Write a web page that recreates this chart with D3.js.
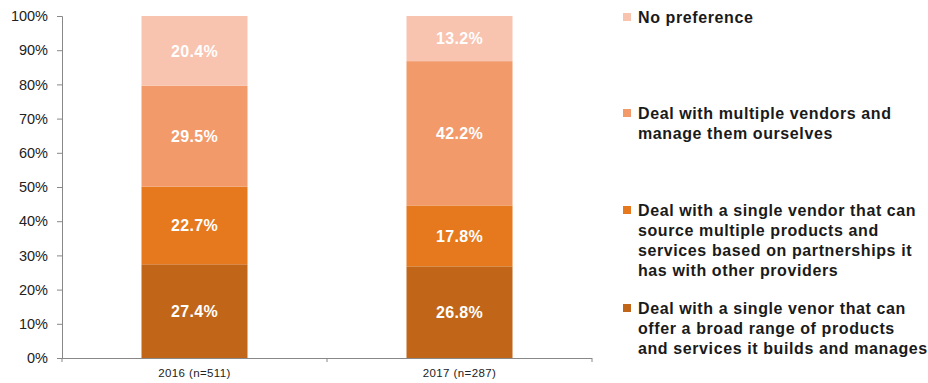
<!DOCTYPE html>
<html><head><meta charset="utf-8">
<script src="https://cdn.jsdelivr.net/npm/d3@7"></script>
<style>body{margin:0;background:#fff}svg{display:block}text{font-family:"Liberation Sans",Arial,sans-serif}</style>
</head><body><svg id="c" width="928" height="383"></svg>
<script>
const categories = ["2016 (n=511)", "2017 (n=287)"];
const seriesNames = [
  "Deal with a single venor that can offer a broad range of products and services it builds and manages",
  "Deal with a single vendor that can source multiple products and services based on partnerships it has with other providers",
  "Deal with multiple vendors and manage them ourselves",
  "No preference"
];
const broadRange = [27.4, 26.8];
const partnerships = [22.7, 17.8];
const multipleVendors = [29.5, 42.2];
const noPreference = [20.4, 13.2];
const yTicks = [0,10,20,30,40,50,60,70,80,90,100];
const legendLines = [
  ["Deal with a single venor that can", "offer a broad range of products", "and services it builds and manages"],
  ["Deal with a single vendor that can", "source multiple products and", "services based on partnerships it", "has with other providers"],
  ["Deal with multiple vendors and", "manage them ourselves"],
  ["No preference"]
];
const colors = ["#C16619", "#E6791E", "#F39A6B", "#F8C3AF"];

const svg = d3.select("#c");
const series = [broadRange, partnerships, multipleVendors, noPreference];
const table = categories.map((c,i)=>{const o={cat:c}; series.forEach((s,k)=>o["s"+k]=s[i]); return o;});
const keys = series.map((s,k)=>"s"+k);
const stack = d3.stack().keys(keys)(table);

const x = d3.scaleBand().domain(categories).range([62,592]);
const y = d3.scaleLinear().domain([0,100]).range([358,16]);
const bw = x.bandwidth()*0.4;

// bars
stack.forEach((layer,k)=>{
  const g = svg.append("g");
  g.selectAll("rect").data(layer).join("rect")
    .attr("x", d=>x(d.data.cat)+x.bandwidth()/2-bw/2)
    .attr("width", bw)
    .attr("y", d=>y(d[1]))
    .attr("height", d=>y(d[0])-y(d[1]))
    .attr("fill", colors[k]);
  g.selectAll("text").data(layer).join("text")
    .attr("x", d=>x(d.data.cat)+x.bandwidth()/2)
    .attr("y", d=>(y(d[0])+y(d[1]))/2)
    .attr("dy","0.36em")
    .attr("text-anchor","middle")
    .attr("fill","#fff")
    .attr("font-weight","bold")
    .attr("font-size","16px")
    .attr("letter-spacing","0.3px")
    .text(d=>(d[1]-d[0]).toFixed(1)+"%");
});

// y axis
const ya = svg.append("g").attr("transform","translate(62,0)")
  .call(d3.axisLeft(y).tickValues(yTicks).tickSize(5).tickPadding(9).tickFormat(d=>d+"%"));
ya.select(".domain").attr("stroke","#888");
ya.selectAll(".tick line").attr("stroke","#888");
ya.selectAll(".tick text").attr("font-size","14.5px").attr("fill","#222").attr("font-family","'Liberation Sans',Arial,sans-serif");

// x axis
const xa = svg.append("g").attr("transform","translate(0,358)")
  .call(d3.axisBottom(x).tickSize(0).tickPadding(8));
xa.select(".domain").attr("stroke","#888").attr("d","M62,0.5H592");
xa.selectAll(".tick text").attr("font-size","11.5px").attr("letter-spacing","0.4px").attr("fill","#222").attr("font-family","'Liberation Sans',Arial,sans-serif").attr("dy","0.95em");
const seps = [x.range()[0], ...categories.slice(1).map(c=>x(c)), x.range()[1]];
svg.append("g").selectAll("line").data(seps).join("line")
  .attr("x1",d=>d).attr("x2",d=>d).attr("y1",358).attr("y2",362).attr("stroke","#888");

// legend
const legendTop = [308, 210, 113, 17];
legendLines.forEach((lines,k)=>{
  const g = svg.append("g");
  g.append("rect").attr("x",623).attr("y",legendTop[k]-4).attr("width",8).attr("height",8).attr("fill",colors[k]);
  lines.forEach((ln,j)=>{
    g.append("text").attr("x",638).attr("y",legendTop[k]+j*20).attr("dy","0.36em")
      .attr("font-size","16px").attr("font-weight","bold").attr("letter-spacing","0.6px").attr("fill","#1a1a1a").text(ln);
  });
});
</script></body></html>
